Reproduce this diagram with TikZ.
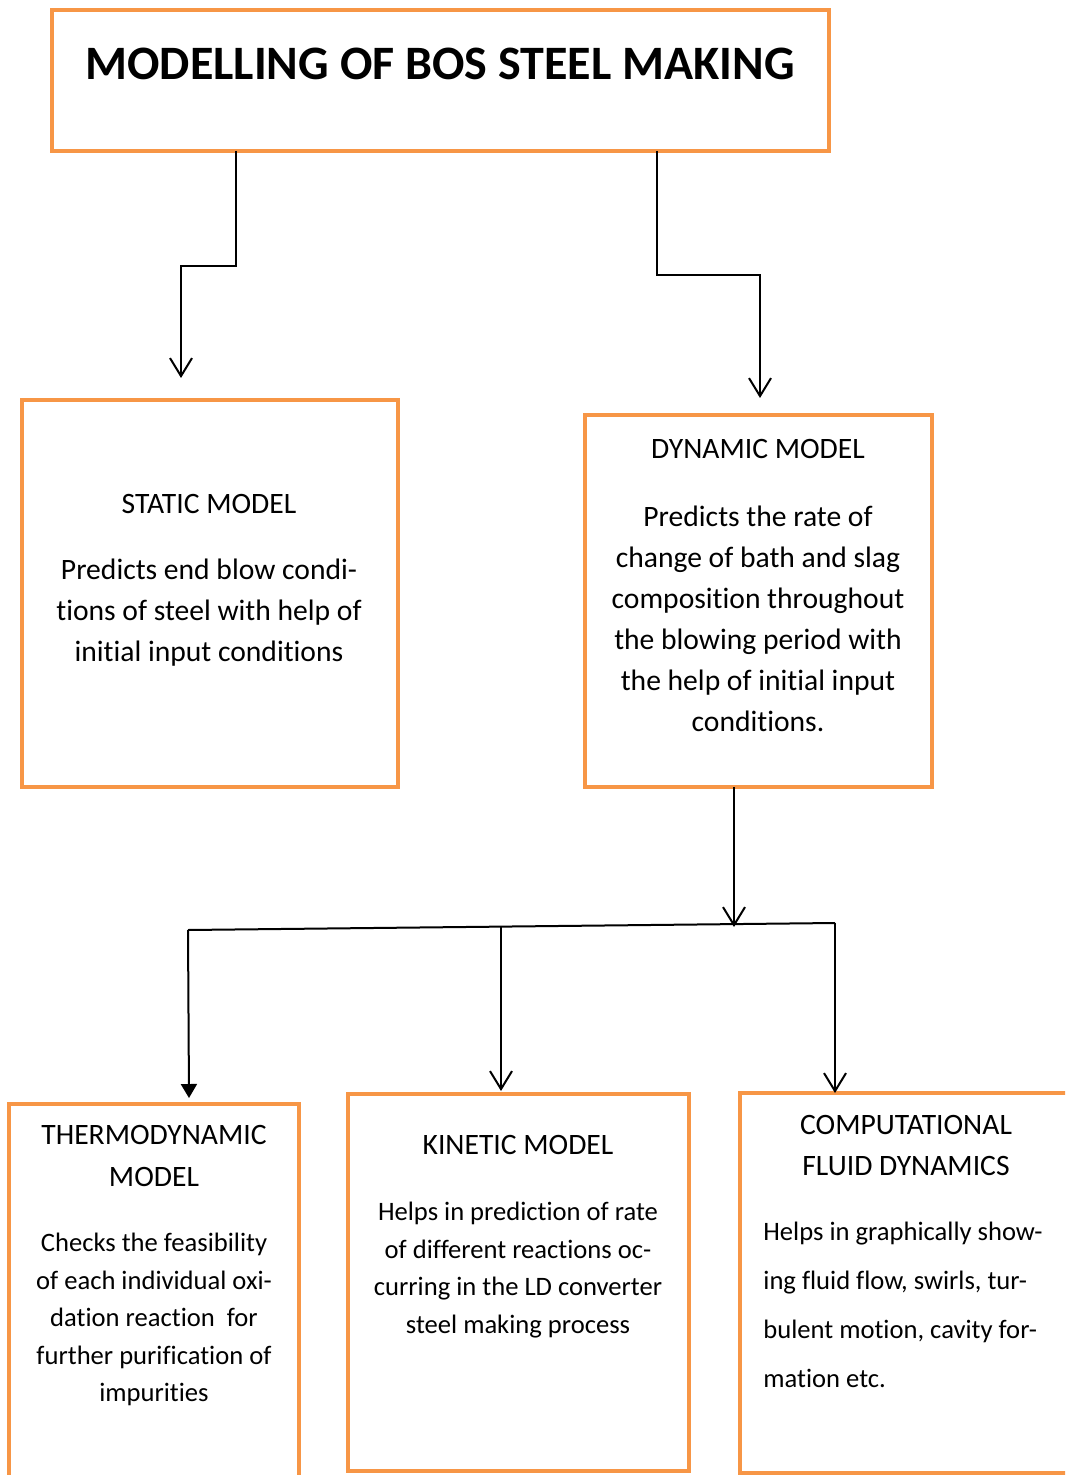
\documentclass[tikz,border=0pt]{standalone}
\usepackage{fontspec}
\setmainfont[Ligatures=NoCommon]{Carlito}
\usetikzlibrary{arrows.meta}
\definecolor{boxorange}{HTML}{F79646}
\begin{document}
\begin{tikzpicture}[x=0.5pt,y=-0.5pt,
  box/.style={draw=boxorange, line width=2pt, rectangle, inner sep=0pt, outer sep=0pt, anchor=north west},
  conn/.style={draw=black, line width=1pt},
  barb/.style={-{Straight Barb[length=9pt,width=11pt]}},
  tri/.style={-{Triangle[length=7pt,width=8pt]}},
  ttl/.style={font=\fontsize{14.8}{20.5}\selectfont, align=center, inner sep=0pt, anchor=north},
  bigtxt/.style={font=\fontsize{14.8}{20.5}\selectfont, align=center, inner sep=0pt, anchor=north},
  smalltxt/.style={font=\fontsize{13.3}{18.75}\selectfont, align=center, inner sep=0pt, anchor=north}
]
\useasboundingbox (0,0) rectangle (1065,1475);
\clip (0,0) rectangle (1065,1475);
\fill[white] (0,0) rectangle (1065,1475);

% boxes
\node[box, minimum width=388.5pt, minimum height=70.5pt] (title) at (52,10) {};
\node[box, minimum width=188pt, minimum height=193.5pt] (static) at (22,400) {};
\node[box, minimum width=173.5pt, minimum height=186pt] (dynamic) at (585,415) {};
\node[box, minimum width=145pt, minimum height=200pt] (thermo) at (9,1104) {};
\node[box, minimum width=170.5pt, minimum height=188.5pt] (kinetic) at (348,1094) {};
\node[box, minimum width=175pt, minimum height=190pt] (cfd) at (740,1093) {};

% texts
\node[font=\fontsize{24}{28}\bfseries, inner sep=0pt] (titletxt) at (440,64) {MODELLING OF BOS STEEL MAKING};

\node[ttl] (statict) at (209,494) {STATIC MODEL};
\node[bigtxt] (staticb) at (209,559) {Predicts end blow condi-\\tions of steel with help of\\initial input conditions};

\node[ttl] (dynt) at (758,439) {DYNAMIC MODEL};
\node[bigtxt] (dynb) at (758,506) {Predicts the rate of\\change of bath and slag\\composition throughout\\the blowing period with\\the help of initial input\\conditions.};

\node[font=\fontsize{14.8}{21}\selectfont, align=center, inner sep=0pt, anchor=north] (thermot) at (154,1125) {THERMODYNAMIC\\MODEL};
\node[smalltxt] (thermob) at (154,1233) {Checks the feasibility\\of each individual oxi-\\dation reaction\ \ for\\further purification of\\impurities};

\node[ttl] (kint) at (518,1135) {KINETIC MODEL};
\node[smalltxt] (kinb) at (518,1202) {Helps in prediction of rate\\of different reactions oc-\\curring in the LD converter\\steel making process};

\node[ttl] (cfdt) at (906,1115) {COMPUTATIONAL\\FLUID DYNAMICS};
\node[font=\fontsize{13.3}{24.5}\selectfont, align=left, inner sep=0pt, anchor=north west] (cfdb) at (763,1222) {Helps in graphically show-\\ing fluid flow, swirls, tur-\\bulent motion, cavity for-\\mation etc.};

% connector points
\coordinate (t1) at (236,151);
\coordinate (s1) at (181,378);
\coordinate (t2) at (657,151);
\coordinate (d1) at (760,398);
\coordinate (d2) at (734,787);
\coordinate (j0) at (734,927);
\coordinate (hl) at (188,930);
\coordinate (hr) at (835,923);
\coordinate (hm) at (501,927);
\coordinate (e1) at (189,1098);
\coordinate (e2) at (501,1091);
\coordinate (e3) at (835,1093);

\draw[conn,barb] (t1) -- (236,266) -- (181,266) -- (s1);
\draw[conn,barb] (t2) -- (657,275) -- (760,275) -- (d1);
\draw[conn,barb] (d2) -- (j0);
\draw[conn] (hl) -- (hr);
\draw[conn,tri] (hl) -- (e1);
\draw[conn,barb] (hm) -- (e2);
\draw[conn,barb] (hr) -- (e3);
\end{tikzpicture}
\end{document}
